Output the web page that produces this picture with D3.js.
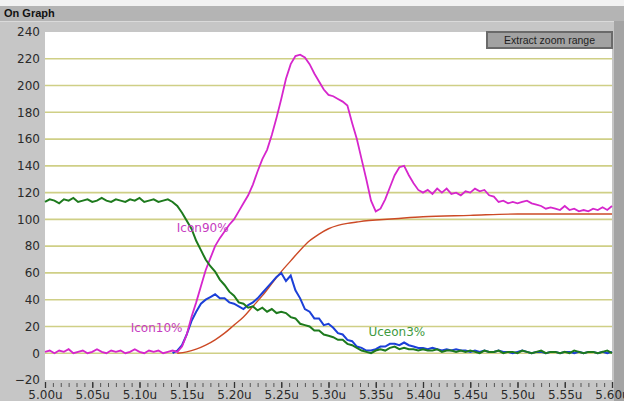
<!DOCTYPE html>
<html>
<head>
<meta charset="utf-8">
<script src="https://d3js.org/d3.v7.min.js"></script>
<style>
  body { margin: 0; background: #c4c4c4; }
  text { font-family: "DejaVu Sans", Verdana, sans-serif; }
</style>
</head>
<body>
<svg id="chart" width="624" height="401"></svg>
<script>
  // sample grid of the scope, 5 ns steps (in us)
  var tStart = 5.00, tStep = 0.005;
  var blueStart = 5.135;

  var yTicks = [-20, 0, 20, 40, 60, 80, 100, 120, 140, 160, 180, 200, 220, 240];
  var gridVals = [0, 20, 40, 60, 80, 100, 120, 140, 160, 180, 200, 220];
  var xTicks = [5.00, 5.05, 5.10, 5.15, 5.20, 5.25, 5.30, 5.35, 5.40, 5.45, 5.50, 5.55, 5.60];
  var xLabels = ["5.00u", "5.05u", "5.10u", "5.15u", "5.20u", "5.25u", "5.30u", "5.35u", "5.40u", "5.45u", "5.50u", "5.55u", "5.60u"];

  var magenta = [1,2,0,2,1,3,0,1,2,0, 1,3,1,0,2,1,2,0,1,3, 1,0,2,1,2,0,1,2,1,
    5,14,27,38,50,62,71,80,86,91,96,100,
    106,112,118,126,136,145,152,163,176,190,205,216,222,223,221,216,209,203,197,193,
    192,190,188,185,172,160,145,130,114,106,108,115,124,133,139,140,133,127,122,120,
    122,119,123,120,123,119,120,118,121,120,123,121,122,118,117,113,114,112,113,112,
    113,114,112,111,110,108,109,108,107,110,107,108,106,107,106,108,107,109,107,110];

  var green = [113,115,114,112,115,114,116,113,114,115, 113,114,116,114,113,115,114,113,115,114, 116,113,114,115,113,114,115,
    113,110,105,99,93,84,77,70,65,61, 55,51,46,43,38,37,34,35,32,34, 31,33,30,31,
    30,27,26,22,21,20,17,17,14,13, 12,10,10,7,6,4,2,1,0,2, 3,2,4,5,3,
    4,3,3,2,3,2,2,3,1,2, 2,1,2,1,2,1,0,2,1,1, 2,0,1,1,0,2,1,0,1,2, 0,1,1,0,1,0,2,1,0,1, 1,0,1,2,0];

  var blue = [0,2,6,14,24,31,37,40,42,44,41,41,38,37,
    35,33,36,38,41,45,49,53,57,60,54,58,47,41,33,31,26,26,21,22,
    19,15,14,10,9,5,4,2,2,3,5,5,7,7,6,8,6,5,4,4,
    3,4,3,2,3,2,3,2,2,1, 2,1,2,1,1,2,1,1,0,1, 2,1,0,1,1,0,1,1,0,1, 1,0,1,0,1,1,0,1,0,1];

  var redT = [5.14,5.15,5.16,5.17,5.18,5.19,5.20,5.21,5.22,5.23,5.24,5.25,5.26,5.27,5.28,5.29,5.30,5.31,5.32,5.33,5.34,5.35,5.37,5.40,5.45,5.50,5.55,5.60];
  var redV = [0,1,3,6,10,15,21,27,35,43,52,61,69,77,84,89,93,95.5,97,98,99,99.5,100.5,102,103,104,104,104];

  var labels = [
    {text: "Icon90%", t: 5.1395, v: 94, color: "#c63cc0"},
    {text: "Icon10%", t: 5.0907, v: 19, color: "#c63cc0"},
    {text: "Uceon3%", t: 5.3423, v: 16, color: "#3e9a3e"}
  ];

  var svg = d3.select("#chart");
  var W = 624, H = 401;
  var plotL = 45, plotR = 612, plotT = 32, plotB = 380;

  // window chrome
  svg.append("rect").attr("width", W).attr("height", H).attr("fill", "#c6c6c6");
  svg.append("rect").attr("width", W).attr("height", 6).attr("fill", "#f2f2f2");
  svg.append("rect").attr("y", 6).attr("width", W).attr("height", 15).attr("fill", "#b4b4b4");
  svg.append("rect").attr("y", 21).attr("width", W).attr("height", 1).attr("fill", "#dadada");
  svg.append("rect").attr("x", 614).attr("y", 21).attr("width", 10).attr("height", H - 21).attr("fill", "#a4a4a4");
  svg.append("text").attr("x", 4).attr("y", 17)
    .style("font-family", "Liberation Sans, Arial, sans-serif")
    .attr("font-weight", "bold").attr("font-size", 11).attr("fill", "#111")
    .text("On Graph");

  svg.append("rect").attr("x", plotL).attr("y", plotT)
    .attr("width", plotR - plotL).attr("height", plotB - plotT).attr("fill", "#ffffff");

  var x = d3.scaleLinear().domain([5.00, 5.60]).range([plotL, plotR]);
  var y = d3.scaleLinear().domain([-20, 240]).range([plotB, plotT]);

  // grid
  svg.append("g").selectAll("line").data(gridVals).enter().append("line")
    .attr("x1", plotL).attr("x2", plotR)
    .attr("y1", function(d) { return y(d); }).attr("y2", function(d) { return y(d); })
    .attr("stroke", "#cfcf86").attr("stroke-width", 1.6);

  // y axis labels
  var yAxis = svg.append("g")
    .attr("transform", "translate(" + (plotL - 4) + ",0)")
    .call(d3.axisLeft(y).tickValues(yTicks).tickSize(0).tickPadding(1));
  yAxis.select(".domain").remove();
  yAxis.selectAll("text").attr("font-size", 12).attr("fill", "#2a2a2a")
    .style("font-family", "DejaVu Sans, Verdana, sans-serif");

  // x axis: minor ticks every 1/6 of a major step
  var minor = d3.range(0, 73).map(function(i) { return 5.00 + i * 0.05 / 6; });
  var xMinor = svg.append("g")
    .attr("transform", "translate(0," + (plotB + 3) + ")")
    .call(d3.axisBottom(x).tickValues(minor).tickSize(4).tickFormat(""));
  xMinor.select(".domain").remove();
  xMinor.selectAll("line").attr("stroke", "#555");

  var xAxis = svg.append("g")
    .attr("transform", "translate(0," + (plotB + 2) + ")")
    .call(d3.axisBottom(x).tickValues(xTicks).tickSize(6).tickPadding(2)
      .tickFormat(function(d, i) { return xLabels[i]; }));
  xAxis.select(".domain").remove();
  xAxis.selectAll("line").attr("stroke", "#333").attr("stroke-width", 1.3);
  xAxis.selectAll("text").attr("font-size", 12).attr("fill", "#2a2a2a")
    .style("font-family", "DejaVu Sans, Verdana, sans-serif");

  function series(vals, t0) {
    return vals.map(function(v, i) { return {t: t0 + i * tStep, v: v}; });
  }

  var line = d3.line()
    .x(function(d) { return x(d.t); })
    .y(function(d) { return y(d.v); });

  var plot = svg.append("g");

  plot.append("path")
    .datum(redT.map(function(t, i) { return {t: t, v: redV[i]}; }))
    .attr("fill", "none").attr("stroke", "#cc4a26").attr("stroke-width", 1.4)
    .attr("d", d3.line().curve(d3.curveMonotoneX)
      .x(function(d) { return x(d.t); }).y(function(d) { return y(d.v); }));

  plot.append("path").datum(series(blue, blueStart))
    .attr("fill", "none").attr("stroke", "#1c40d8").attr("stroke-width", 2)
    .attr("d", line);

  plot.append("path").datum(series(magenta, tStart))
    .attr("fill", "none").attr("stroke", "#d626cc").attr("stroke-width", 1.8)
    .attr("d", line);

  plot.append("path").datum(series(green, tStart))
    .attr("fill", "none").attr("stroke", "#1d7a1d").attr("stroke-width", 2)
    .attr("d", line);

  plot.selectAll(".lbl").data(labels).enter().append("text")
    .attr("class", "lbl")
    .attr("x", function(d) { return x(d.t); })
    .attr("y", function(d) { return y(d.v); })
    .attr("dy", "0.35em")
    .attr("font-size", 12)
    .attr("fill", function(d) { return d.color; })
    .text(function(d) { return d.text; });

  // button
  var btn = svg.append("g").attr("transform", "translate(486,31)");
  btn.append("rect").attr("width", 127).attr("height", 18).attr("fill", "#6a6a6a");
  btn.append("rect").attr("x", 2).attr("y", 2).attr("width", 123).attr("height", 14).attr("fill", "#a2a2a2");
  btn.append("text").attr("x", 63.5).attr("y", 13).attr("text-anchor", "middle")
    .style("font-family", "Liberation Sans, Arial, sans-serif")
    .attr("font-size", 10.5).attr("fill", "#1e1e1e")
    .text("Extract zoom range");
</script>
</body>
</html>
